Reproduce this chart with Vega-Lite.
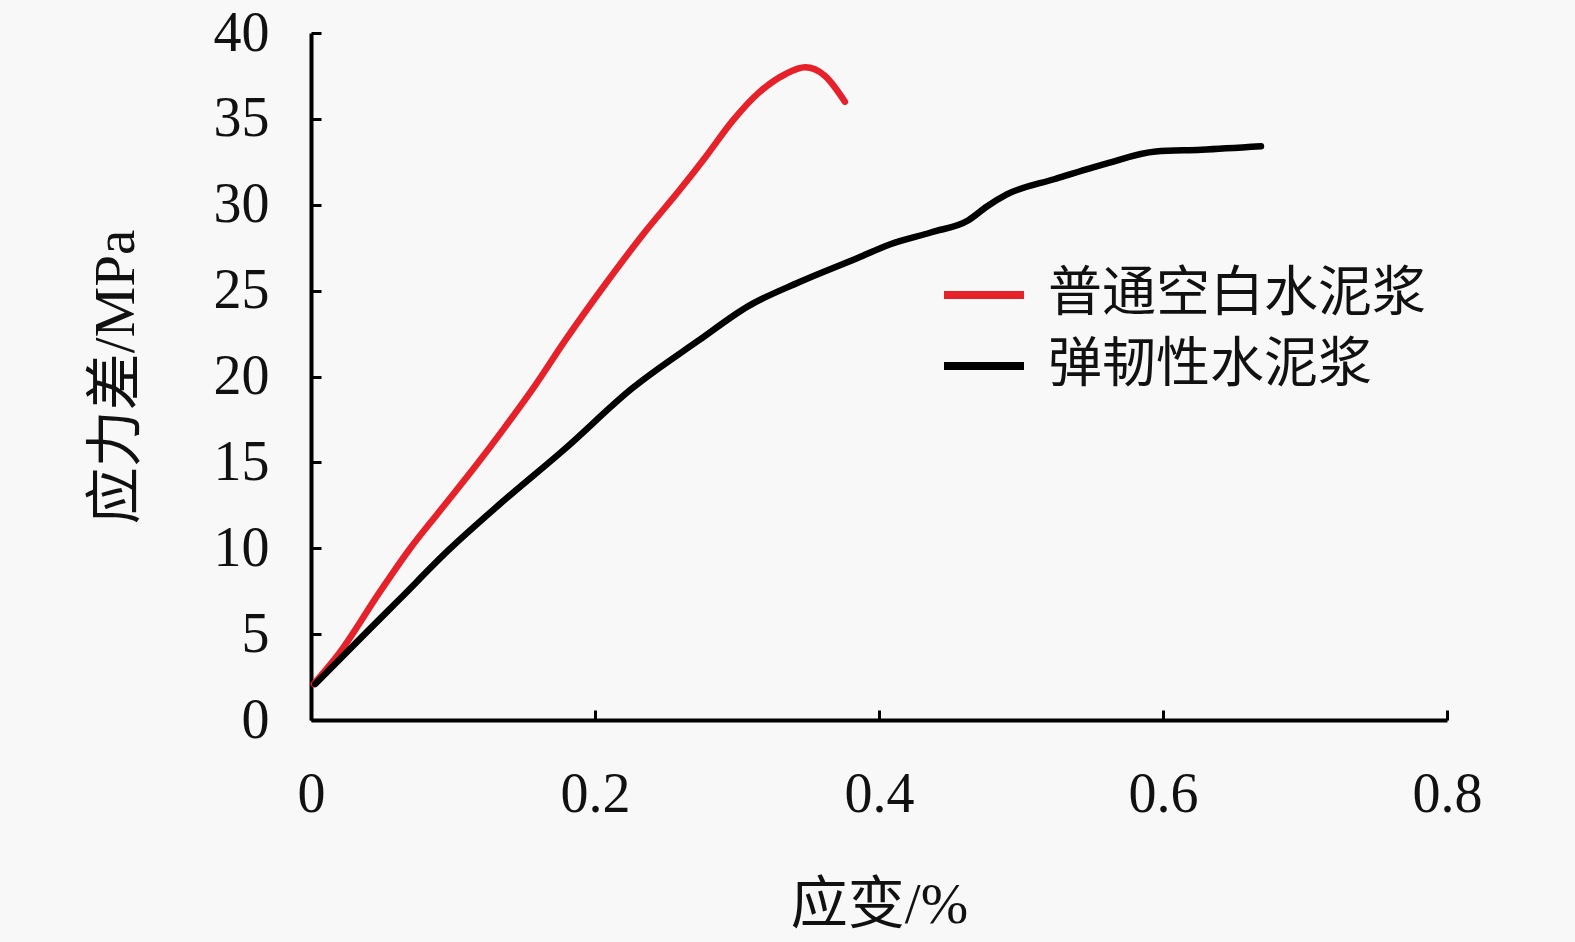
{
  "$schema": "https://vega.github.io/schema/vega-lite/v6.json",
  "width": 1136,
  "height": 687,
  "autosize": {"type": "none"},
  "padding": {"left": 311, "top": 33, "right": 128, "bottom": 222},
  "background": "#f8f8f8",
  "config": {
    "view": {"stroke": null},
    "font": "Liberation Serif, Noto Sans CJK SC",
    "axis": {
      "grid": false,
      "domainColor": "#000000",
      "domainWidth": 4,
      "tickColor": "#000000",
      "tickWidth": 3,
      "tickSize": -10,
      "labelFont": "Liberation Serif",
      "labelFontSize": 56,
      "labelColor": "#111111",
      "labelFlush": false,
      "labelOverlap": false,
      "titleFont": "Liberation Serif, Noto Sans CJK SC",
      "titleFontSize": 57,
      "titleFontWeight": "normal",
      "titleColor": "#111111"
    }
  },
  "data": {
    "values": [
      {"series": "普通空白水泥浆", "strain": 0.002, "stress": 2.1},
      {"series": "普通空白水泥浆", "strain": 0.020, "stress": 3.9},
      {"series": "普通空白水泥浆", "strain": 0.048, "stress": 7.4},
      {"series": "普通空白水泥浆", "strain": 0.069, "stress": 9.9},
      {"series": "普通空白水泥浆", "strain": 0.090, "stress": 12.1},
      {"series": "普通空白水泥浆", "strain": 0.116, "stress": 14.8},
      {"series": "普通空白水泥浆", "strain": 0.137, "stress": 17.1},
      {"series": "普通空白水泥浆", "strain": 0.158, "stress": 19.5},
      {"series": "普通空白水泥浆", "strain": 0.179, "stress": 22.1},
      {"series": "普通空白水泥浆", "strain": 0.2075, "stress": 25.4},
      {"series": "普通空白水泥浆", "strain": 0.236, "stress": 28.5},
      {"series": "普通空白水泥浆", "strain": 0.259, "stress": 30.8},
      {"series": "普通空白水泥浆", "strain": 0.278, "stress": 32.8},
      {"series": "普通空白水泥浆", "strain": 0.297, "stress": 34.9},
      {"series": "普通空白水泥浆", "strain": 0.315, "stress": 36.5},
      {"series": "普通空白水泥浆", "strain": 0.334, "stress": 37.6},
      {"series": "普通空白水泥浆", "strain": 0.348, "stress": 38.0},
      {"series": "普通空白水泥浆", "strain": 0.362, "stress": 37.5},
      {"series": "普通空白水泥浆", "strain": 0.376, "stress": 36.0},
      {"series": "弹韧性水泥浆", "strain": 0.003, "stress": 2.1},
      {"series": "弹韧性水泥浆", "strain": 0.039, "stress": 5.1},
      {"series": "弹韧性水泥浆", "strain": 0.062, "stress": 7.0},
      {"series": "弹韧性水泥浆", "strain": 0.097, "stress": 9.9},
      {"series": "弹韧性水泥浆", "strain": 0.132, "stress": 12.5},
      {"series": "弹韧性水泥浆", "strain": 0.179, "stress": 15.8},
      {"series": "弹韧性水泥浆", "strain": 0.226, "stress": 19.3},
      {"series": "弹韧性水泥浆", "strain": 0.273, "stress": 22.1},
      {"series": "弹韧性水泥浆", "strain": 0.308, "stress": 24.1},
      {"series": "弹韧性水泥浆", "strain": 0.344, "stress": 25.5},
      {"series": "弹韧性水泥浆", "strain": 0.385, "stress": 26.9},
      {"series": "弹韧性水泥浆", "strain": 0.408, "stress": 27.7},
      {"series": "弹韧性水泥浆", "strain": 0.437, "stress": 28.4},
      {"series": "弹韧性水泥浆", "strain": 0.463, "stress": 29.1},
      {"series": "弹韧性水泥浆", "strain": 0.476, "stress": 29.9},
      {"series": "弹韧性水泥浆", "strain": 0.490, "stress": 30.6},
      {"series": "弹韧性水泥浆", "strain": 0.524, "stress": 31.5},
      {"series": "弹韧性水泥浆", "strain": 0.560, "stress": 32.4},
      {"series": "弹韧性水泥浆", "strain": 0.595, "stress": 33.1},
      {"series": "弹韧性水泥浆", "strain": 0.627, "stress": 33.2},
      {"series": "弹韧性水泥浆", "strain": 0.669, "stress": 33.4}
    ]
  },
  "mark": {"type": "line", "strokeWidth": 6.5, "strokeCap": "round", "strokeJoin": "round", "interpolate": "monotone"},
  "encoding": {
    "x": {
      "field": "strain",
      "type": "quantitative",
      "title": "应变/%",
      "scale": {"domain": [0, 0.8], "nice": false},
      "axis": {"values": [0, 0.2, 0.4, 0.6, 0.8], "format": "~g", "labelPadding": 57, "titlePadding": 55}
    },
    "y": {
      "field": "stress",
      "type": "quantitative",
      "title": "应力差/MPa",
      "scale": {"domain": [0, 40], "nice": false},
      "axis": {"values": [0, 5, 10, 15, 20, 25, 30, 35, 40], "labelPadding": 52, "titlePadding": 68}
    },
    "color": {
      "field": "series",
      "type": "nominal",
      "sort": ["普通空白水泥浆", "弹韧性水泥浆"],
      "scale": {"domain": ["普通空白水泥浆", "弹韧性水泥浆"], "range": ["#e62129", "#000000"]},
      "legend": {
        "title": null,
        "orient": "none",
        "legendX": 629,
        "legendY": 218,
        "symbolType": "stroke",
        "symbolSize": 6400,
        "symbolStrokeWidth": 8,
        "labelFont": "Noto Sans CJK SC",
        "labelFontSize": 54,
        "labelColor": "#111111",
        "labelOffset": 20,
        "rowPadding": -13,
        "labelLimit": 600
      }
    }
  }
}
